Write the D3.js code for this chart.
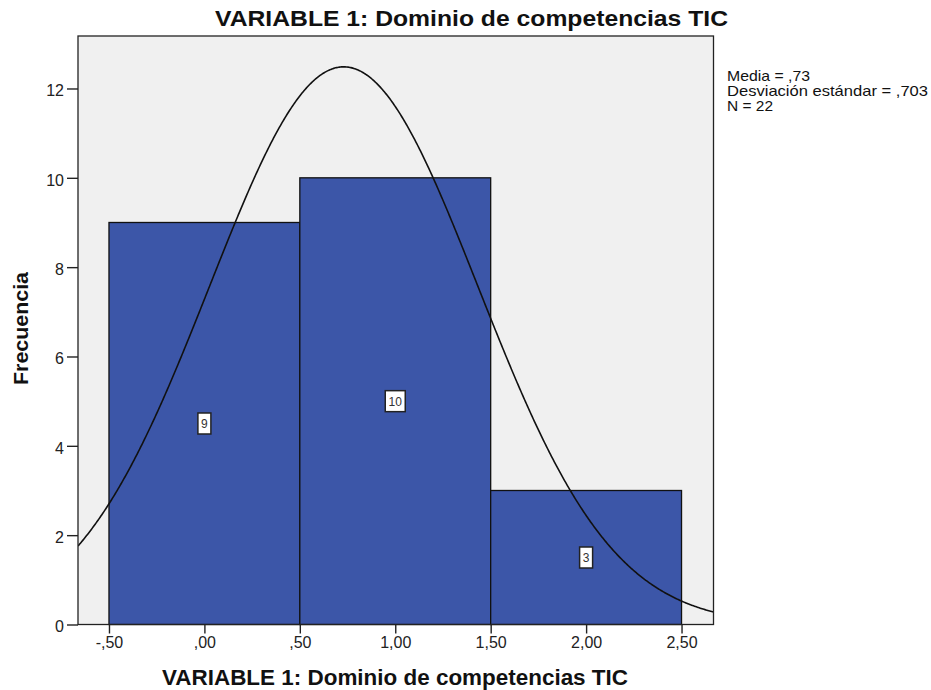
<!DOCTYPE html>
<html><head><meta charset="utf-8">
<script src="https://cdn.jsdelivr.net/npm/d3@7"></script>
<style>body{margin:0;background:#fff}svg{display:block}text{font-family:"Liberation Sans",Arial,sans-serif}</style>
</head><body><svg id="c" width="931" height="690"></svg>
<script>
const binStarts = [-0.5, 0.5, 1.5];
const binEnds = [0.5, 1.5, 2.5];
const counts = [9, 10, 3];
const xTicks = [-0.5, 0, 0.5, 1, 1.5, 2, 2.5];
const xTickLabels = ["-,50", ",00", ",50", "1,00", "1,50", "2,00", "2,50"];
const yTicks = [0, 2, 4, 6, 8, 10, 12];
const statsLines = ["Media = ,73", "Desviación estándar = ,703", "N = 22"];
const statsWidths = [83, 201, 46];
const mean = 0.73, sd = 0.703, n = 22;
const titleText = "VARIABLE 1: Dominio de competencias TIC";

const svg = d3.select("#c");
const L = 78, R = 713.5, T = 36, B = 624.5;
const x = d3.scaleLinear().domain([-0.6623, 2.6675]).range([L, R]);
const y = d3.scaleLinear().domain([0, 13.175]).range([B, T]);

svg.append("rect").attr("x", L).attr("y", T).attr("width", R - L).attr("height", B - T).attr("fill", "#f0f0f0");
svg.append("defs").append("clipPath").attr("id", "clip").append("rect").attr("x", L).attr("y", T).attr("width", R - L).attr("height", B - T);

const bins = counts.map((c, i) => ({c, a: binStarts[i], b: binEnds[i]}));
svg.selectAll("rect.bar").data(bins).enter().append("rect").attr("class", "bar")
  .attr("x", d => x(d.a)).attr("y", d => y(d.c)).attr("width", d => x(d.b) - x(d.a)).attr("height", d => y(0) - y(d.c))
  .attr("fill", "#3c56a8").attr("stroke", "#111").attr("stroke-width", 1.3);

// normal curve
const bw = 1;
const pts = d3.range(-0.6623, 2.668, 0.005).map(v => [v, n * bw * Math.exp(-0.5 * ((v - mean) / sd) ** 2) / (sd * Math.sqrt(2 * Math.PI))]);
svg.append("path").datum(pts).attr("clip-path", "url(#clip)")
  .attr("d", d3.line().x(d => x(d[0])).y(d => y(d[1])))
  .attr("fill", "none").attr("stroke", "#111").attr("stroke-width", 1.6);

// value labels
bins.forEach(d => {
  const cx = x((d.a + d.b) / 2), cy = y(d.c / 2);
  const t = String(d.c);
  const w = t.length * 7 + 6, h = 21;
  svg.append("rect").attr("x", cx - w / 2).attr("y", cy - h / 2).attr("width", w).attr("height", h)
    .attr("fill", "#fff").attr("stroke", "#222").attr("stroke-width", 1.5);
  svg.append("text").attr("x", cx).attr("y", cy + 4.5).attr("text-anchor", "middle").attr("font-size", 12).attr("fill", "#333").text(t);
});

// frame
svg.append("rect").attr("x", L).attr("y", T).attr("width", R - L).attr("height", B - T).attr("fill", "none").attr("stroke", "#222").attr("stroke-width", 1.3);

// axes
const xa = svg.append("g").attr("transform", `translate(0,${B})`)
  .call(d3.axisBottom(x).tickValues(xTicks).tickFormat((d, i) => xTickLabels[i]).tickSize(9).tickPadding(3));
const ya = svg.append("g").attr("transform", `translate(${L},0)`)
  .call(d3.axisLeft(y).tickValues(yTicks).tickSize(11).tickPadding(3));
[xa, ya].forEach(g => {
  g.select(".domain").remove();
  g.selectAll("line").attr("stroke", "#222").attr("stroke-width", 1.4);
  g.selectAll("text").attr("font-size", 16).attr("fill", "#222").style("font-family", "'Liberation Sans',Arial,sans-serif");
});
ya.selectAll("text").attr("dy", "0.45em");

svg.append("text").attr("x", 471.5).attr("y", 25.5).attr("text-anchor", "middle").attr("font-size", 21.5).attr("font-weight", "bold").attr("fill", "#111")
  .attr("textLength", 513).attr("lengthAdjust", "spacingAndGlyphs").text(titleText);
svg.append("text").attr("x", 395).attr("y", 685).attr("text-anchor", "middle").attr("font-size", 21.5).attr("font-weight", "bold").attr("fill", "#111")
  .attr("textLength", 466).attr("lengthAdjust", "spacingAndGlyphs").text(titleText);
svg.append("text").attr("transform", "translate(28,328.5) rotate(-90)").attr("text-anchor", "middle").attr("font-size", 21).attr("font-weight", "bold").attr("fill", "#111")
  .attr("textLength", 113).attr("lengthAdjust", "spacingAndGlyphs").text("Frecuencia");

svg.append("g").selectAll("text").data(statsLines).enter().append("text")
  .attr("x", 727).attr("y", (d, i) => 81 + i * 15).attr("font-size", 14.5).attr("fill", "#111")
  .attr("textLength", (d, i) => statsWidths[i]).attr("lengthAdjust", "spacingAndGlyphs").text(d => d);
</script></body></html>
